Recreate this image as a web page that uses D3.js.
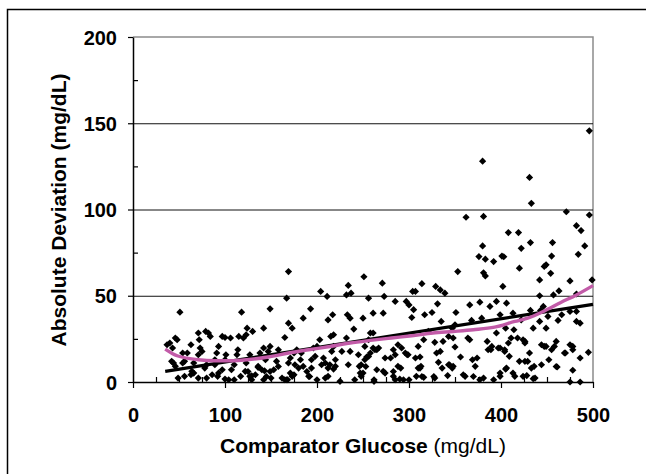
<!DOCTYPE html>
<html>
<head>
<meta charset="utf-8">
<script src="https://cdn.jsdelivr.net/npm/d3@7"></script>
<style>
  body { margin: 0; background: #fff; }
  text { font-family: "Liberation Sans", Arial, sans-serif; }
</style>
</head>
<body>
<div id="viz"></div>
<script>
// [comparator glucose, absolute deviation]
var scatter = [
  [496,145.6],[380,128],[431,118.6],[433,103.6],[362,95.5],[381,96],[471,98.7],[496,96.8],[482,90.6],[487,87.8],
  [408,86.6],[419,86.6],[422,77.5],[432,80.8],[456,80.8],[380,78.9],[376,72.7],[383,71.2],[392,69.8],[401,73],
  [403,72.6],[455,73],[484,74],[491,78.9],[420,66],[353,64],[381,63.3],[383,61.5],[449,67.9],[447,67],
  [454,63],[442,59.2],[499,59.2],[475,58.6],[402,55.4],[463,52.8],[457,50.5],[442,50],[482,51],[329,55.4],
  [334,53.4],[339,51.5],[314,57],[304,52.5],[271,57.3],[251,61],[234,56],[237,51.5],[232,50.5],[204,52.5],
  [211,49.6],[169,64],[167,48.6],[149,42.4],[118,40.5],[51,40.5],[193,42.4],[185,37],[217,39],[212,36],
  [233,39],[236,37],[250,37],[240,30.7],[218,27.4],[215,26.4],[256,48.6],[261,39.9],[272,39.9],[285,46.7],
  [273,49.6],[297,46.7],[300,44.7],[305,41.9],[307,52.5],[303,37.4],[317,39],[325,40.3],[331,45.3],[335,35.1],
  [351,40.3],[366,44.7],[377,46.3],[388,43.8],[395,46.7],[406,45.7],[399,39],[413,39.9],[443,41.5],[432,41.5],
  [446,43.8],[466,39],[475,40.9],[482,40.9],[482,35.1],[486,34.1],[462,35.7],[451,38],[442,35.1],[449,31.2],
  [435,31.2],[422,36],[368,35.7],[379,37],[350,33.2],[347,31.2],[364,25.5],[366,24.5],[385,23.5],[424,24.5],
  [418,25.5],[414,30.3],[405,31.2],[395,28.4],[386,18.7],[390,20.6],[397,19.7],[404,18.7],[408,22.6],[426,22.6],
  [444,21.6],[449,20.6],[460,23.5],[458,20.6],[455,18.7],[475,21.6],[478,18.7],[470,16.8],[495,17.2],[461,8.7],
  [452,12.9],[444,10],[436,9.1],[431,16.8],[420,12],[426,12],[409,14.9],[413,5.2],[415,3.3],[399,3.3],
  [399,5.2],[405,7.5],[424,3.3],[428,3.7],[435,1.9],[478,6.8],[486,13.9],[475,0],[486,0],[392,1.3],
  [381,2.3],[372,9.1],[369,12.9],[377,1.3],[361,3.3],[359,4.2],[356,14.5],[348,9.1],[344,10],[342,3.7],
  [350,20.3],[343,26.4],[348,25.5],[337,23.5],[334,17.7],[330,16.8],[332,11.4],[328,23],[321,29.3],[316,24.5],
  [310,20.6],[312,14.5],[313,9.1],[310,8.1],[308,3.3],[316,2.7],[328,2.3],[300,1.3],[294,1.3],[290,1.7],
  [285,1.3],[283,3.3],[288,9.1],[291,8.1],[299,15.8],[296,16.8],[292,19.7],[288,21.6],[283,18.7],[280,13.9],
  [285,15.8],[274,13.9],[272,6.2],[265,7.1],[262,1.3],[265,18.7],[267,19.7],[261,19.7],[258,16.8],[256,24.5],
  [258,28.4],[261,28.4],[252,20.6],[252,12.9],[254,14.5],[248,10],[246,9.1],[248,3.3],[250,5.2],[241,1.3],
  [236,17.7],[232,25.5],[227,17.7],[225,0.4],[218,20.6],[216,17.7],[220,9.1],[218,7.5],[214,10],[209,11],
  [207,13.9],[212,3.3],[209,2.3],[200,1.3],[200,20.6],[203,24.5],[198,14.9],[196,19.7],[194,12.9],[194,8.1],
  [191,3.3],[185,9.1],[182,12.9],[183,16.8],[175,16.8],[171,13.9],[169,11],[173,3.3],[175,4.2],[168,1.3],
  [165,1.3],[162,2.3],[165,25.8],[169,34.1],[173,31.2],[178,18.7],[158,18.7],[156,12],[153,7.1],[150,2.3],
  [149,20.6],[147,17.7],[144,12.9],[142,31.2],[142,19.7],[140,7.1],[142,1.3],[138,16.8],[136,9.1],[133,4.2],
  [129,1.3],[127,3.3],[130,29.3],[124,31.2],[123,27.4],[127,15.8],[123,11],[122,6.2],[117,3.3],[115,26.4],
  [120,25.5],[114,18.7],[113,15.8],[110,10],[107,7.1],[106,25.5],[101,15.8],[100,12.9],[97,7.1],[100,1.7],
  [104,1.3],[110,1.3],[97,26.4],[100,25.8],[93,20.6],[91,16.8],[89,12.9],[89,10],[93,5.2],[92,3.3],
  [86,4.2],[84,26.4],[82,28.4],[79,29.3],[80,10],[78,8.1],[80,2.3],[72,24.5],[73,19.7],[71,28.4],
  [75,17.7],[71,15.8],[71,2.3],[66,11],[64,6.2],[63,21.6],[59,16.8],[56,12],[56,3.3],[54,16.8],
  [54,11],[49,2.3],[46,9.1],[48,24.5],[46,25.5],[42,12],[43,19.7],[40,22.6],[37,21.6],[44,11],
  [66,5.2],[63,4.2],[125,6.1],[129,3.6],[136,8.5],[143,6.5],[145,3.2],[149,6.1],[158,9],[167,1.3],
  [171,5.2],[176,10],[180,8.1],[189,6.1],[192,3.2],[205,10],[212,8.1],[220,12.9],[234,10],[245,15.8],
  [247,5.2],[262,0.4],[274,5.2],[283,6.1],[298,15.8],[307,13.9],[312,8.1],[314,3.2],[327,3.2],[336,8.1],
  [343,10],[347,8.1],[370,3.2],[374,13.9],[256,14.8],[263,18.7],[253,9],[389,18.7],[399,19.7],[404,17.7],
  [411,25.5],[426,23.5],[429,11.9],[433,8.1],[447,20.6],[460,9],[469,16.8],[478,20.6],[406,8.1],[437,2.3]
];

// linear trend line
var fitGlucose = [35, 500];
var fitDeviation = [6.2, 45];

// smoothed curve
var smoothGlucose = [35, 48, 71, 89, 106, 124, 147, 169, 191, 214, 236, 258, 281, 303, 326, 348, 370, 393, 415, 429, 446, 465, 482, 500];
var smoothDeviation = [19.1, 15.2, 12.9, 12.3, 12.3, 12.9, 14.5, 16.8, 18.7, 20.6, 22.6, 24.1, 25.5, 26.8, 28.4, 29.3, 30.3, 31.8, 35.1, 37, 40.9, 46.1, 50.5, 55.9];

var xTicks = [0, 100, 200, 300, 400, 500];
var yTicks = [0, 50, 100, 150, 200];
var gridTicks = [50, 100, 150];

var width = 646,
    height = 474;

var x = d3.scaleLinear().domain([0, 500]).range([133, 593]);
var y = d3.scaleLinear().domain([0, 200]).range([382, 37]);

var svg = d3.select("#viz")
  .append("svg")
    .attr("width", width)
    .attr("height", height);

// outer frame (runs off the right and bottom)
svg.append("rect")
    .attr("x", 7.5)
    .attr("y", 9.5)
    .attr("width", 700)
    .attr("height", 500)
    .style("fill", "none")
    .style("stroke", "black")
    .style("stroke-width", 1.5);

// plot frame, top and right
svg.append("path")
    .attr("d", "M" + x(0) + "," + y(200) + "H" + x(500) + "V" + y(0))
    .style("fill", "none")
    .style("stroke", "#8c8c8c")
    .style("stroke-width", 1.5);

svg.selectAll(".grid")
    .data(gridTicks)
  .enter().append("line")
    .attr("class", "grid")
    .attr("x1", x(0))
    .attr("x2", x(500))
    .attr("y1", function(d) { return y(d) + 0.5; })
    .attr("y2", function(d) { return y(d) + 0.5; })
    .style("stroke", "#111")
    .style("stroke-width", 1);

// minor ticks, inside
var xMinor = d3.range(25, 500, 25).filter(function(d) { return d % 100 != 0; });
svg.append("g")
    .attr("transform", "translate(0," + y(0) + ")")
    .call(d3.axisTop(x).tickValues(xMinor).tickSize(5).tickFormat(""))
    .call(function(g) { g.select(".domain").remove(); });

svg.append("g")
    .attr("transform", "translate(" + x(0) + ",0)")
    .call(d3.axisRight(y).tickValues([25, 75, 125, 175]).tickSize(5).tickFormat(""))
    .call(function(g) { g.select(".domain").remove(); });

var xAxis = svg.append("g")
    .attr("transform", "translate(0," + y(0) + ")")
    .call(d3.axisBottom(x).tickValues(xTicks).tickSize(6).tickSizeOuter(0).tickPadding(20));

var yAxis = svg.append("g")
    .attr("transform", "translate(" + x(0) + ",0)")
    .call(d3.axisLeft(y).tickValues(yTicks).tickSize(5).tickSizeOuter(0).tickPadding(11));

svg.selectAll(".tick line").style("stroke", "black").style("stroke-width", 1.2);
svg.selectAll(".domain").style("stroke", "black").style("stroke-width", 1.5);

[xAxis, yAxis].forEach(function(a) {
  a.selectAll("text")
    .style("font-family", "'Liberation Sans', Arial, sans-serif")
    .style("font-size", "20px")
    .style("font-weight", "bold")
    .style("fill", "black");
});
yAxis.selectAll("text").attr("dy", "0.36em");

// points
var diamond = "M0,-3.6L3.6,0L0,3.6L-3.6,0Z";
svg.selectAll(".pt")
    .data(scatter)
  .enter().append("path")
    .attr("class", "pt")
    .attr("d", diamond)
    .attr("transform", function(d) { return "translate(" + x(d[0]) + "," + y(d[1]) + ")"; })
    .style("fill", "black");

var line = d3.line()
    .x(function(d) { return x(d[0]); })
    .y(function(d) { return y(d[1]); });

svg.append("path")
    .datum(d3.zip(fitGlucose, fitDeviation))
    .attr("d", line)
    .style("fill", "none")
    .style("stroke", "black")
    .style("stroke-width", 3.2);

svg.append("path")
    .datum(d3.zip(smoothGlucose, smoothDeviation))
    .attr("d", line.curve(d3.curveMonotoneX))
    .style("fill", "none")
    .style("stroke", "#c25ba8")
    .style("stroke-width", 3.4);

// titles
var xTitle = svg.append("text")
    .attr("x", (x(0) + x(500)) / 2)
    .attr("y", 453)
    .attr("text-anchor", "middle")
    .style("font-size", "21px");
xTitle.append("tspan").style("font-weight", "bold").text("Comparator Glucose");
xTitle.append("tspan").text(" (mg/dL)");

svg.append("text")
    .attr("transform", "translate(66,210) rotate(-90)")
    .attr("text-anchor", "middle")
    .style("font-size", "21px")
    .style("font-weight", "bold")
    .text("Absolute Deviation (mg/dL)");
</script>
</body>
</html>
